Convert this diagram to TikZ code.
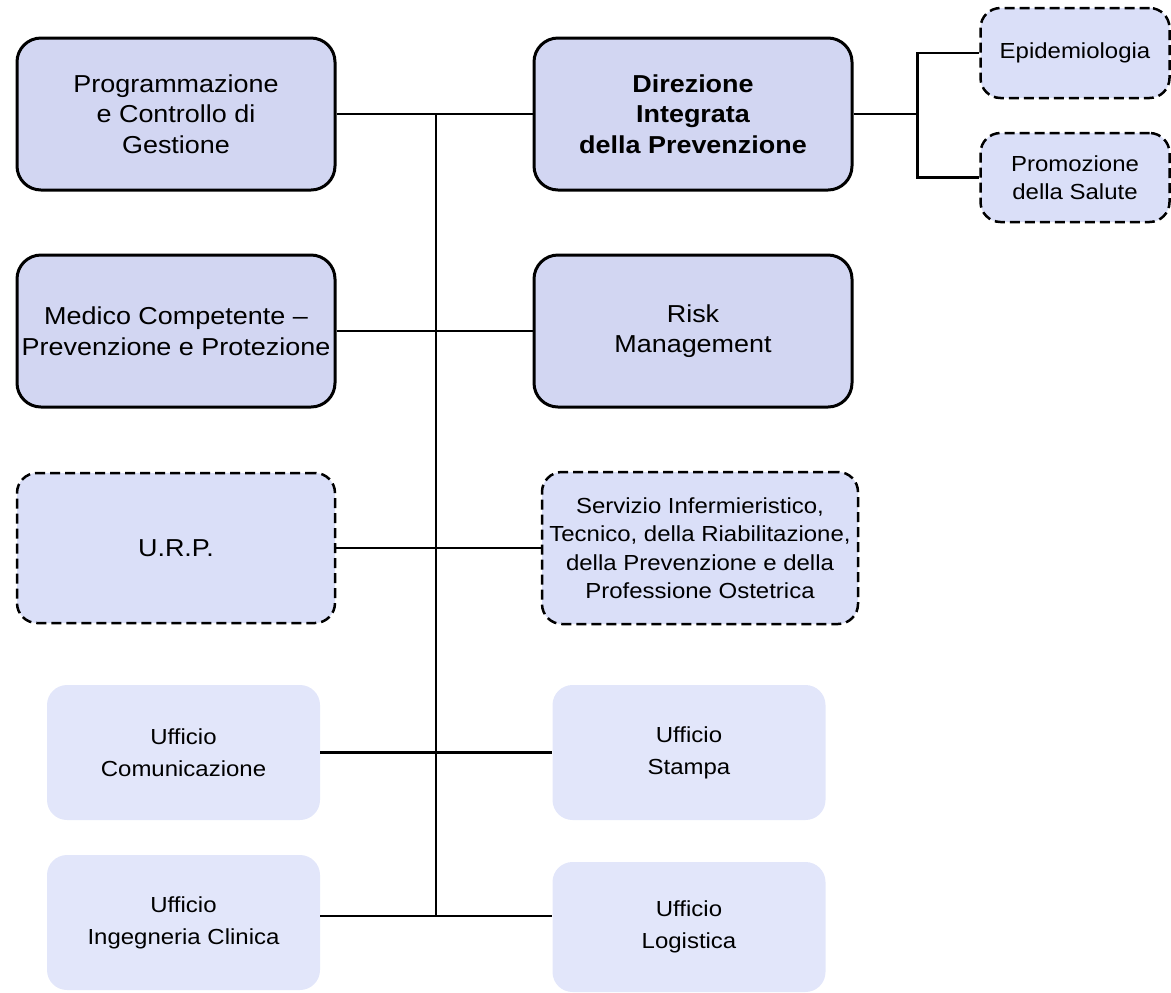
\documentclass[tikz,border=0pt]{standalone}
\usepackage{fontspec}
\setmainfont{Liberation Sans}[FakeStretch=1.1]
\definecolor{mainfill}{RGB}{210,214,242}
\definecolor{stafffill}{RGB}{218,223,248}
\definecolor{officefill}{RGB}{226,230,250}
\newcommand{\bigtext}{\fontsize{12.25}{15.25}\selectfont}
\newcommand{\smalltext}{\fontsize{10.9}{14.25}\selectfont}
\newcommand{\officetext}{\fontsize{10.9}{16}\selectfont}
\begin{document}
\begin{tikzpicture}[x=0.5pt, y=-0.5pt,
    unit/.style = {align=center, inner sep=2pt, font=\bigtext},
    main/.style = {unit, draw, line width=1.5pt, rounded corners=12pt, fill=mainfill, minimum width=159pt, minimum height=76pt},
    staff/.style = {unit, draw, line width=1.25pt, dash pattern=on 5pt off 2.5pt, rounded corners=10pt, fill=stafffill},
    office/.style = {unit, rounded corners=10pt, fill=officefill, minimum width=136.5pt, minimum height=67.5pt, font=\officetext},
    link/.style = {line width=1.2pt}]
    \useasboundingbox (0,0) rectangle (1171,992);
    \node[main] (prog) at (176,114) {Programmazione\\ e Controllo di\\ Gestione};
    \node[main, font=\bigtext\bfseries] (dir) [right of=prog, node distance=258.5pt] {Direzione\\ Integrata\\ della Prevenzione};
    \node[staff, minimum width=94.5pt, minimum height=45pt, font=\smalltext] (epi) [right of=dir, node distance=191pt, yshift=30.5pt] {Epidemiologia};
    \node[staff, minimum width=94.5pt, minimum height=44.5pt, font=\smalltext] (promo) [below of=epi, node distance=62.25pt] {Promozione\\ della Salute};
    \node[main] (medico) [below of=prog, node distance=108.5pt] {Medico Competente --\\ Prevenzione e Protezione};
    \node[main] (risk) [below of=dir, node distance=108.5pt] {Risk\\ Management};
    \node[staff, minimum width=159pt, minimum height=75pt] (urp) [below of=medico, node distance=108.5pt] {U.R.P.};
    \node[staff, minimum width=158pt, minimum height=76pt, font=\smalltext] (serv) [right of=urp, node distance=262pt] {Servizio Infermieristico,\\ Tecnico, della Riabilitazione,\\ della Prevenzione e della\\ Professione Ostetrica};
    \node[office] (comm) [below of=urp, node distance=102.25pt, xshift=3.75pt] {Ufficio\\ Comunicazione};
    \node[office] (stampa) [right of=comm, node distance=252.75pt] {Ufficio\\ Stampa};
    \node[office] (ing) [below of=comm, node distance=85pt] {Ufficio\\ Ingegneria Clinica};
    \node[office, minimum height=65pt] (log) [right of=ing, node distance=252.75pt, yshift=-2.25pt] {Ufficio\\ Logistica};
    \coordinate (top) at (436,114);
    \coordinate (bot) at (436,916);
    \draw[link] (prog) -- (dir);
    \draw[link] (medico) -- (risk);
    \draw[link] (urp.east) -- (urp.east -| serv.west);
    \draw[link] (comm) -- (stampa);
    \draw[link] (bot -| ing.east) -- (bot -| log.west);
    \draw[link] (top) -- (bot);
    \draw[link] (dir.east) -- ++(64,0) coordinate (fork);
    \draw[link] (epi.west) -| (fork) |- (promo.west);
\end{tikzpicture}
\end{document}
